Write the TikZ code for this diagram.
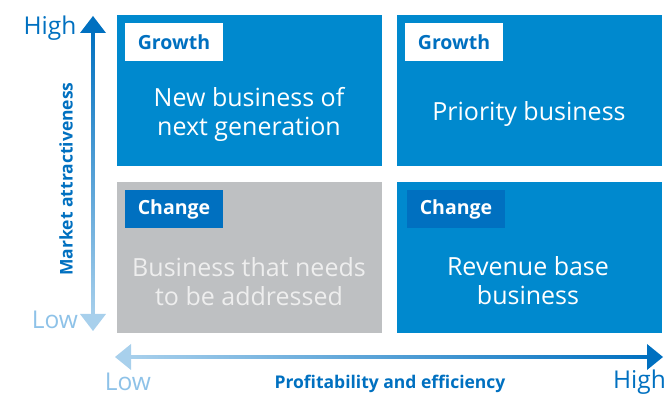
\documentclass[tikz,border=0pt]{standalone}
\usepackage{fontspec}
\setmainfont{Open Sans}
\definecolor{boxblue}{RGB}{0,137,206}
\definecolor{darkblue}{RGB}{0,112,192}
\definecolor{lightblue}{RGB}{168,208,236}
\definecolor{lowblue}{RGB}{142,194,232}
\definecolor{boxgrey}{RGB}{190,192,194}
\definecolor{greytext}{RGB}{238,238,238}
\tikzset{
  quad/.style={minimum width=265pt, minimum height=151pt, inner sep=0pt, draw=none},
  tagbox/.style={minimum width=98pt, minimum height=38pt, inner sep=0pt, font=\bfseries\fontsize{19.5}{22}\selectfont},
  maintext/.style={align=center, font=\fontsize{25}{29}\selectfont},
  axislbl/.style={font=\fontsize{24.5}{28}\selectfont},
  axistitle/.style={font=\bfseries\fontsize{17.5}{20}\selectfont, text=darkblue},
}
\begin{document}
\begin{tikzpicture}[x=1pt,y=1pt]
\useasboundingbox (0,0) rectangle (667,396);
% quadrants
\node[quad, fill=boxblue, anchor=north west] (tl) at (117,381) {};
\node[quad, fill=boxblue, anchor=north west] (tr) at (397,381) {};
\node[quad, fill=boxgrey, anchor=north west] (bl) at (117,214) {};
\node[quad, fill=boxblue, anchor=north west] (br) at (397,214) {};
% tags
\node[tagbox, fill=white, text=darkblue] (gtl) at (174,354) {Growth};
\node[tagbox, fill=white, text=darkblue] (gtr) at (454,354) {Growth};
\node[tagbox, fill=darkblue, text=white] (cbl) at (174,186.5) {Change};
\node[tagbox, fill=darkblue, text=white] (cbr) at (456,186.5) {Change};
% main texts
\node[maintext, text=white] (ttl) at (249,282) {New business of\\next generation};
\node[maintext, text=white] (ttr) at (529,282) {Priority business};
\node[maintext, text=greytext] (tbl) at (249,114.5) {Business that needs\\to be addressed};
\node[maintext, text=white] (tbr) at (528,115) {Revenue base\\business};
% vertical axis
\coordinate (vtop) at (93,380);
\coordinate (vbot) at (93,65);
\shade[top color=darkblue, bottom color=lightblue] (91.5,78) rectangle (94.5,367);
\fill[darkblue] (vtop) -- (80,363) -- (106,363) -- cycle;
\fill[lightblue] (vbot) -- (80,82) -- (106,82) -- cycle;
\node[axislbl, text=darkblue] (vhigh) at (50,368) {High};
\node[axislbl, text=lowblue] (vlow) at (55,76) {Low};
\node[axistitle, rotate=90] (vtitle) at (66,217) {Market attractiveness};
% horizontal axis
\coordinate (hleft) at (115,39);
\coordinate (hright) at (663,39);
\shade[left color=lightblue, right color=darkblue] (128,37.5) rectangle (650,40.5);
\fill[lightblue] (hleft) -- (131,52) -- (131,26) -- cycle;
\fill[darkblue] (hright) -- (647,52) -- (647,26) -- cycle;
\node[axislbl, text=lowblue] (hlow) at (128,14) {Low};
\node[axistitle] (htitle) at (390,12) {Profitability and efficiency};
\node[axislbl, text=darkblue, anchor=east, inner xsep=1pt] (hhigh) at (667,14) {High};
\end{tikzpicture}
\end{document}
